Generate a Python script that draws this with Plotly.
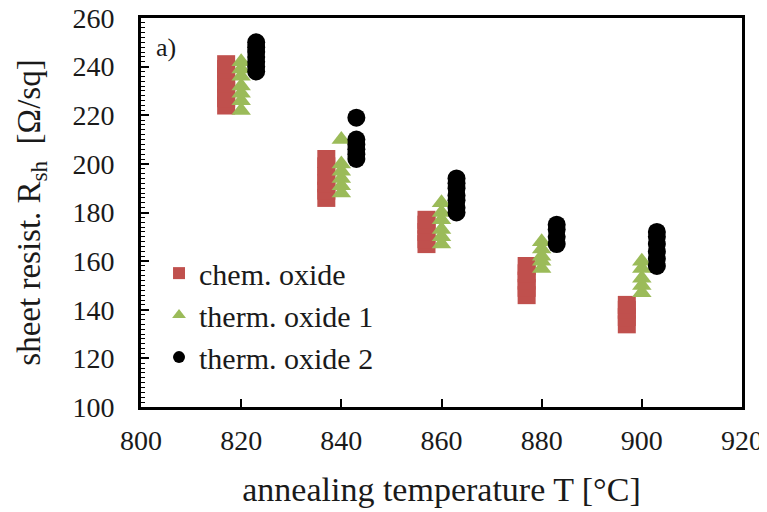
import plotly.graph_objects as go

# chem. oxide (plotted slightly left of nominal temperature)
chem_T = [817]*7 + [837]*6 + [857]*5 + [877]*5 + [897]*4
chem_R = [224, 227, 230, 233, 236, 239, 241,
          186, 189, 192, 195, 199, 202,
          167, 169, 172, 175, 177,
          146, 149, 152, 155, 158,
          134, 137, 140, 142]

# therm. oxide 1
th1_T = [820]*7 + [840]*6 + [860]*6 + [880]*5 + [900]*5
th1_R = [222, 226, 229, 232, 236, 239, 242,
         188, 191, 194, 197, 200, 210,
         167, 170, 173, 177, 180, 184,
         157, 160, 162, 165, 168,
         147, 150, 153, 157, 160]

# therm. oxide 2 (plotted slightly right of nominal temperature)
th2_T = [823]*7 + [843]*6 + [863]*7 + [883]*4 + [903]*6
th2_R = [238, 240, 242, 244, 246, 248, 250,
         202, 204, 206, 208, 210, 219,
         180, 182, 185, 187, 190, 192, 194,
         167, 170, 173, 175,
         158, 161, 164, 167, 170, 172]

x_ticks = [800, 820, 840, 860, 880, 900, 920]
y_ticks = [100, 120, 140, 160, 180, 200, 220, 240, 260]

FONT = "Liberation Serif, Times New Roman, serif"
TXT = "#1a1a1a"

fig = go.Figure()
fig.add_trace(go.Scatter(x=chem_T, y=chem_R, mode="markers", name="chem. oxide",
                         marker=dict(symbol="square", size=18, color="#C0504D")))
fig.add_trace(go.Scatter(x=th1_T, y=th1_R, mode="markers", name="therm. oxide 1",
                         marker=dict(symbol="triangle-up", size=17, color="#9BBB59")))
fig.add_trace(go.Scatter(x=th2_T, y=th2_R, mode="markers", name="therm. oxide 2",
                         marker=dict(symbol="circle", size=18, color="#000000")))

fig.update_layout(
    width=759, height=504,
    margin=dict(l=133, r=25, t=10, b=105, autoexpand=False),
    paper_bgcolor="white", plot_bgcolor="white",
    font=dict(family=FONT, color=TXT, size=28),
    showlegend=True,
    legend=dict(x=0.03, y=0.411, xanchor="left", yanchor="top",
                bgcolor="rgba(0,0,0,0)", font=dict(size=30, family=FONT, color=TXT),
                itemsizing="constant"),
    annotations=[dict(text="a)", x=0.022, y=0.925, xref="paper", yref="paper",
                      xanchor="left", yanchor="middle", showarrow=False,
                      font=dict(size=26, family=FONT, color=TXT))],
)
fig.update_xaxes(range=[800, 920], tickvals=x_ticks, ticktext=[str(v) for v in x_ticks],
                 showgrid=False, zeroline=False, showline=True, linecolor="black",
                 linewidth=3, mirror=True, ticks="inside", ticklen=8, tickwidth=1.5,
                 tickcolor="black", tickfont=dict(size=28, family=FONT, color=TXT),
                 ticklabelstandoff=6, automargin=False, ticklabeloverflow="allow",
                 title=dict(text="annealing temperature T [°C]", standoff=23,
                            font=dict(size=34, family=FONT, color=TXT)))
fig.update_yaxes(range=[100, 260], tickvals=y_ticks, ticktext=[str(v) for v in y_ticks],
                 showgrid=False, zeroline=False, showline=True, linecolor="black",
                 linewidth=3, mirror=True, ticks="inside", ticklen=8, tickwidth=1.5,
                 tickcolor="black", tickfont=dict(size=28, family=FONT, color=TXT),
                 ticklabelstandoff=18, automargin=False, ticklabeloverflow="allow",
                 minor=dict(ticks="inside", dtick=2, ticklen=4, tickwidth=1, tickcolor="black"),
                 title=dict(text="sheet resist. R<sub>sh</sub>  [Ω/sq]", standoff=22,
                            font=dict(size=33, family=FONT, color=TXT)))

fig.write_html("out.html")
